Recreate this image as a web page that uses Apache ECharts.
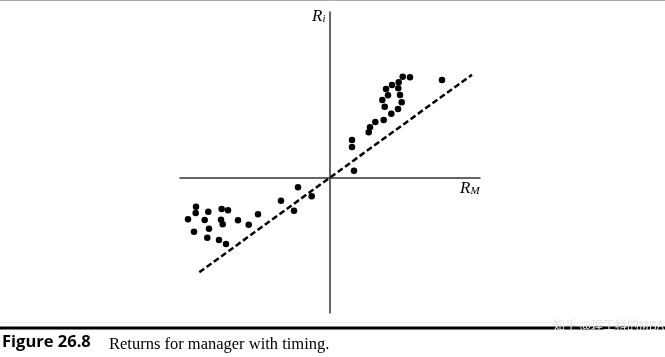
<!DOCTYPE html>
<html><head><meta charset="utf-8">
<script src="https://cdn.jsdelivr.net/npm/echarts@6/dist/echarts.min.js"></script>
<style>html,body{margin:0;padding:0;background:#fff}#c{width:665px;height:357px}</style>
</head><body><div id="c"></div>
<script>
// Scatter points (market return R_M, fund return R_i), arbitrary units
const upX = [7.27, 8.0, 11.2, 6.2, 6.87, 5.6, 6.83, 5.8, 7.0, 5.23, 7.17, 5.47, 6.8, 6.13, 5.37, 4.53, 4.0, 3.87, 2.2, 2.2, 2.4];
const upY = [10.13, 10.07, 9.8, 9.3, 9.57, 8.9, 8.97, 8.27, 8.3, 7.8, 7.57, 7.13, 6.9, 6.43, 5.8, 5.6, 5.07, 4.57, 3.8, 3.1, 0.73];
const downX = [-3.2, -1.83, -4.9, -3.6, -7.2, -8.13, -9.2, -10.2, -10.83, -10.9, -10.73, -12.17, -12.53, -13.4, -13.43, -14.2, -13.6, -12.1, -12.27, -11.1, -10.4];
const downY = [-0.93, -1.83, -2.27, -3.27, -3.63, -4.67, -4.23, -3.23, -3.1, -4.17, -4.63, -3.37, -4.2, -2.87, -3.5, -4.13, -5.37, -5.07, -5.97, -6.2, -6.6];
// Dashed reference line endpoints
const lineX = [-13.07, 14.2];
const lineY = [-9.43, 10.33];

const pts = upX.map((x,i)=>[x,upY[i]]).concat(downX.map((x,i)=>[x,downY[i]]));
const linePts = lineX.map((x,i)=>[x,lineY[i]]);

const chart = echarts.init(document.getElementById('c'));
const axisCommon = {
  type:'value', axisTick:{show:false}, axisLabel:{show:false}, splitLine:{show:false},
  axisLine:{show:true, onZero:true, lineStyle:{color:'#333', width:1.5}}
};
chart.setOption({
  animation:false,
  grid:{left:180, right:185, top:12, bottom:44},
  xAxis:Object.assign({min:-15, max:15}, axisCommon),
  yAxis:Object.assign({min:-13.5, max:16.6}, axisCommon),
  series:[
    {type:'line', data:linePts, symbol:'none', lineStyle:{color:'#000', width:2.5, type:[6,3]}, z:3},
    {type:'scatter', data:pts, symbol:'circle', symbolSize:6.5, itemStyle:{color:'#000', opacity:1}, z:4}
  ],
  graphic:[
    {type:'line', shape:{x1:0,y1:0.5,x2:665,y2:0.5}, style:{stroke:'#aaa', lineWidth:1}},
    {type:'line', shape:{x1:0,y1:322.5,x2:665,y2:322.5}, style:{stroke:'#eee', lineWidth:1}},
    {type:'rect', shape:{x:0,y:326.5,width:665,height:3}, style:{fill:'#000'}},
    {type:'text', left:553, top:319, style:{text:'知乎 @理工科的MBA', font:'12px "Noto Sans CJK SC"', fill:'#e6e6e6'}},
    {type:'text', left:312, top:8, style:{
      text:'{r|R}{s|i}', rich:{
        r:{font:'italic 17px "Liberation Serif"', fill:'#000'},
        s:{font:'italic 11px "Liberation Serif"', fill:'#000', padding:[6,0,0,0]}
      }}},
    {type:'text', left:460, top:180, style:{
      text:'{r|R}{s|M}', rich:{
        r:{font:'italic 17px "Liberation Serif"', fill:'#000'},
        s:{font:'italic 11px "Liberation Serif"', fill:'#000', padding:[6,0,0,0]}
      }}},
    {type:'text', left:2, top:334, style:{text:'Figure 26.8', font:'bold 16.5px "Open Sans"', fill:'#000'}},
    {type:'text', left:109, top:336, style:{text:'Returns for manager with timing.', font:'16.5px "Liberation Serif"', fill:'#000'}}
  ]
});
</script></body></html>
